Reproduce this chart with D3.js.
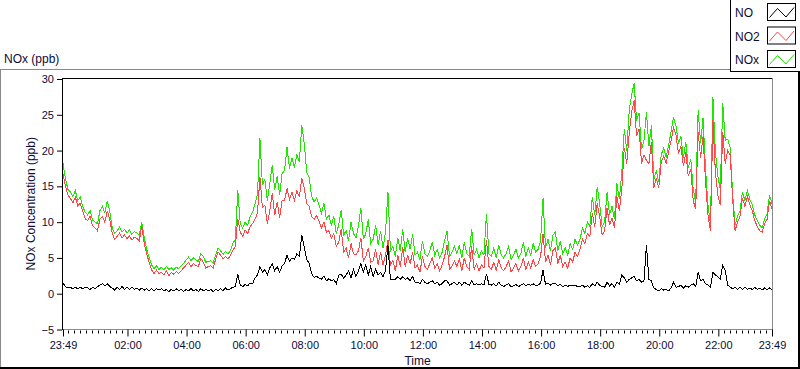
<!DOCTYPE html>
<html><head><meta charset="utf-8">
<script src="https://cdn.jsdelivr.net/npm/d3@7/dist/d3.min.js"></script>
<style>
body{margin:0;background:#fff;}
svg{display:block;font-family:"Liberation Sans",Arial,sans-serif;}
</style></head><body>
<svg id="chart" width="800" height="369"></svg>
<script>
// ---- data ----
const startTime = [2000, 0, 1, 23, 49];   // 23:49, start of the 24 h record
const sampleMinutes = 5;
const NOx = [
18.2,16.0,14.6,14.2,13.6,14.4,13.0,13.5,12.2,11.4,
11.0,11.6,10.3,10.0,9.8,11.6,12.2,11.3,13.0,11.5,
9.2,8.4,8.8,9.3,8.6,9.0,8.5,8.9,8.3,8.7,
8.5,8.2,10.0,7.8,6.2,5.0,4.0,3.5,3.9,3.4,
3.7,3.3,3.8,3.4,3.6,3.3,3.7,3.5,3.9,4.2,
4.7,5.1,4.6,5.0,4.7,4.5,5.6,5.2,4.4,4.5,
4.6,4.3,5.4,6.4,6.0,5.5,5.9,5.6,6.0,7.0,
7.6,14.5,9.8,9.2,10.0,9.5,10.8,11.4,12.6,13.9,
21.7,15.2,16.0,13.0,15.4,18.0,14.5,16.4,13.8,16.8,
17.2,20.5,17.5,19.0,17.6,19.5,18.4,23.5,21.0,17.0,
16.2,13.6,12.8,13.4,12.4,11.2,12.6,10.4,11.0,9.6,
10.8,8.4,9.6,11.7,8.2,8.8,7.4,10.0,8.4,7.8,
9.4,12.0,7.6,8.4,10.4,7.0,7.6,9.6,6.8,8.8,
6.4,8.6,14.2,6.0,6.6,5.2,7.8,6.0,9.0,5.8,
7.8,6.2,8.3,5.4,5.8,4.8,7.4,5.6,5.2,6.0,
7.2,5.4,6.2,5.0,5.8,7.4,8.8,5.2,5.8,6.6,
5.6,6.8,5.0,7.2,5.6,5.2,9.1,5.4,6.2,5.0,
6.0,5.4,11.2,5.6,5.2,6.4,5.0,6.8,5.4,5.0,
5.6,6.6,4.8,5.4,6.2,5.0,5.6,7.2,5.2,6.4,
5.4,7.0,5.8,6.2,7.4,13.3,6.4,7.6,6.0,8.2,
8.6,6.0,7.4,5.6,6.4,5.4,7.0,6.2,7.6,6.8,
7.6,9.2,8.4,10.0,9.4,13.5,11.0,14.9,12.6,9.4,
10.0,14.2,11.0,12.2,10.4,15.4,13.2,17.0,23.0,20.0,
25.6,27.8,29.4,24.2,25.2,20.2,21.4,25.4,20.6,23.5,
16.0,17.2,15.6,19.4,20.4,19.0,20.8,22.6,24.7,23.4,
21.0,22.0,19.0,21.2,17.6,18.8,14.6,12.8,25.6,21.0,
24.6,17.4,12.4,9.6,27.5,19.8,16.4,14.6,26.6,21.4,
21.6,20.4,14.0,9.6,10.8,11.6,14.2,13.0,14.4,13.2,
12.4,11.0,10.2,9.6,9.2,10.4,11.2,13.8,12.6];
const NO2 = [
16.7,15.0,13.8,13.3,12.7,13.5,12.3,12.6,11.5,10.5,
10.2,10.8,9.5,9.2,8.8,10.4,10.8,10.0,11.6,10.4,
8.4,7.6,8.0,8.5,7.8,8.2,7.7,8.1,7.5,7.9,
7.7,7.4,9.5,7.0,5.5,4.4,3.3,2.8,3.3,2.8,
3.0,2.6,3.2,2.5,3.0,2.7,3.1,2.8,3.2,3.6,
4.0,4.4,3.8,4.2,3.9,3.8,4.9,4.4,3.6,3.8,
3.9,3.6,4.8,5.8,5.4,4.9,5.2,4.9,5.3,6.1,
6.6,10.5,8.6,8.0,8.9,8.4,9.4,9.8,10.4,11.3,
16.3,12.0,12.4,9.8,11.6,14.0,11.0,12.8,10.6,13.0,
13.0,14.7,13.2,14.2,13.0,14.4,13.5,16.1,14.8,12.6,
12.2,10.8,10.4,10.9,10.2,9.2,10.0,8.6,8.8,7.8,
8.4,6.6,7.2,9.0,5.8,6.4,5.0,7.0,5.6,5.4,
6.0,7.8,4.6,5.2,6.4,4.4,4.6,6.2,4.0,5.8,
4.0,5.4,7.5,4.0,4.6,3.2,5.4,3.8,6.5,3.8,
5.4,4.2,5.8,3.6,4.0,3.0,5.2,3.8,3.4,4.2,
5.0,3.6,4.2,3.2,4.0,5.2,6.8,3.4,3.8,4.6,
3.8,4.8,3.2,5.0,3.8,3.4,6.6,3.4,4.2,3.2,
4.0,3.6,7.5,3.8,3.4,4.4,3.2,4.8,3.6,3.2,
3.8,4.6,3.0,3.6,4.2,3.2,3.8,5.0,3.4,4.4,
3.6,4.8,3.8,4.2,5.2,8.4,4.4,5.4,4.0,6.0,
6.4,4.2,5.4,3.8,4.4,3.6,5.0,4.4,5.8,5.2,
6.2,7.6,7.0,8.4,8.0,11.2,9.4,12.6,10.8,8.2,
8.8,12.0,9.6,10.6,9.2,13.6,11.6,14.6,20.4,18.2,
22.4,25.4,27.0,22.0,23.0,18.2,19.4,18.6,18.2,21.2,
14.8,16.2,14.8,18.4,19.2,18.2,19.8,21.4,23.2,22.2,
19.6,20.6,17.8,19.8,16.4,17.4,13.0,11.8,22.6,19.0,
22.0,15.6,11.0,8.8,24.2,17.0,13.8,12.4,22.6,18.2,
20.0,19.4,13.2,8.8,10.0,10.8,13.4,12.2,13.6,12.4,
11.6,10.2,9.4,8.8,8.6,9.8,10.4,13.0,11.8];
const NO = [
1.5,1.0,0.8,0.9,0.7,0.9,0.7,0.9,0.7,0.9,
0.8,0.6,0.9,0.7,1.0,1.2,1.4,1.1,1.4,1.0,
0.8,0.5,0.9,0.6,1.0,0.6,0.9,0.6,0.9,0.6,
0.8,0.5,0.8,0.5,0.7,0.4,0.7,0.4,0.7,0.5,
0.7,0.4,0.6,0.3,0.6,0.4,0.7,0.4,0.6,0.3,
0.6,0.4,0.7,0.4,0.6,0.3,0.7,0.4,0.6,0.4,
0.6,0.3,0.6,0.4,0.7,0.4,0.8,0.5,0.7,0.9,
1.0,2.7,1.2,1.0,1.3,1.1,1.5,1.4,2.2,2.6,
3.8,3.0,3.4,2.6,3.6,4.2,3.2,3.8,3.0,3.9,
4.2,5.4,4.5,5.0,4.8,5.6,5.2,8.2,6.5,4.8,
4.2,2.8,2.3,2.4,2.2,2.0,2.5,1.8,2.1,1.8,
2.0,1.4,2.6,2.7,2.2,2.6,3.2,2.2,3.4,2.4,
3.2,4.2,3.0,4.0,2.6,3.8,2.4,3.4,2.6,3.0,
2.4,3.2,6.8,2.0,2.0,2.0,2.4,2.0,2.4,2.0,
2.2,1.8,2.4,1.6,1.6,1.4,2.0,1.6,1.4,1.6,
1.8,1.4,1.6,1.2,1.4,1.8,1.8,1.2,1.4,1.6,
1.2,1.6,1.2,1.6,1.4,1.2,1.8,1.2,1.4,1.2,
1.4,1.2,2.8,1.3,1.2,1.4,1.1,1.6,1.2,1.0,
1.2,1.4,1.0,1.1,1.3,1.0,1.2,1.4,1.1,1.3,
1.2,1.4,1.1,1.2,1.5,3.3,1.3,1.5,1.2,1.5,
1.4,1.1,1.3,1.0,1.2,1.0,1.2,1.1,1.2,1.0,
1.0,1.2,0.9,1.1,0.9,1.4,1.1,1.6,1.2,1.0,
0.9,1.6,1.1,1.4,0.9,1.6,1.3,2.6,2.2,1.6,
2.0,2.2,2.4,1.8,2.0,1.6,1.8,6.8,2.0,1.8,
0.8,0.6,0.4,0.7,0.5,0.6,0.4,0.8,1.6,0.9,
1.0,1.2,0.8,1.1,0.9,1.2,1.4,1.0,3.0,1.8,
2.0,1.4,1.2,0.9,3.0,2.6,2.4,2.0,4.0,3.2,
1.2,0.9,0.7,0.9,0.6,0.9,0.6,0.9,0.6,0.8,
0.6,0.9,0.6,0.8,0.5,0.8,0.6,0.8,0.6];
const yTicks = [-5, 0, 5, 10, 15, 20, 25, 30];
const xTickLabels = ["23:49","02:00","04:00","06:00","08:00","10:00","12:00","14:00","16:00","18:00","20:00","22:00","23:49"];
const seriesNames = ["NO", "NO2", "NOx"];
const seriesColors = ["#000000", "#ff4545", "#1ee600"];
const chartTitle = "NOx (ppb)";
const yTitle = "NOx Concentration (ppb)";
const xTitle = "Time";

// ---- layout ----
const svg = d3.select("#chart");
const L = 63, R = 772, T = 78, B = 329.5;
const textCol = "#0c0c38";

const t0 = new Date(startTime[0], startTime[1], startTime[2], startTime[3], startTime[4]);
const t1 = d3.timeDay.offset(t0, 1);
const times = NOx.map((_, i) => d3.timeMinute.offset(t0, i * sampleMinutes));

const x = d3.scaleTime().domain([t0, t1]).range([L, R]);
const y = d3.scaleLinear().domain([-5, 30]).range([B, 79]);

// outer panel frame
svg.append("rect").attr("x", 0).attr("y", 0).attr("width", 800).attr("height", 369).attr("fill", "#fff");
svg.append("line").attr("x1", 0).attr("x2", 730).attr("y1", 69.5).attr("y2", 69.5).attr("stroke", "#8a8a8a");
svg.append("line").attr("x1", 0.5).attr("x2", 0.5).attr("y1", 69).attr("y2", 369).attr("stroke", "#8a8a8a");
svg.append("rect").attr("x", 0).attr("y", 367).attr("width", 800).attr("height", 2).attr("fill", "#000");
svg.append("rect").attr("x", 798).attr("y", 0).attr("width", 2).attr("height", 369).attr("fill", "#000");

// title
svg.append("text").attr("x", 4).attr("y", 63).attr("font-size", 12).attr("fill", textCol).text(chartTitle);

// clip
svg.append("clipPath").attr("id", "plotclip").append("rect")
  .attr("x", L).attr("y", T).attr("width", R - L).attr("height", B - T);

// series
const seriesData = [NO, NO2, NOx];
const g = svg.append("g").attr("clip-path", "url(#plotclip)");
[2, 1, 0].forEach(k => {
  const line = d3.line().x((d, i) => x(times[i])).y(d => y(d));
  g.append("path").datum(seriesData[k]).attr("d", line)
    .attr("fill", "none").attr("stroke", seriesColors[k]).attr("stroke-width", 1)
    .attr("shape-rendering", "crispEdges");
});

// plot frame: top/left dark, right/bottom grey
svg.append("line").attr("x1", L).attr("x2", R).attr("y1", T + 0.5).attr("y2", T + 0.5).attr("stroke", "#000");
svg.append("line").attr("x1", L - 0.5).attr("x2", L - 0.5).attr("y1", T).attr("y2", B + 0.5).attr("stroke", "#000");
svg.append("line").attr("x1", R + 0.5).attr("x2", R + 0.5).attr("y1", T).attr("y2", B + 0.5).attr("stroke", "#8a8a8a");
svg.append("line").attr("x1", L).attr("x2", R + 1).attr("y1", B).attr("y2", B).attr("stroke", "#8a8a8a");

// y axis
const yAxis = d3.axisLeft(y).tickValues(yTicks).tickSize(5).tickPadding(3).tickFormat(d3.format("d"));
const yg = svg.append("g").attr("transform", `translate(${L - 1},0)`).call(yAxis);
yg.select(".domain").remove();
yg.selectAll(".tick line").attr("stroke", "#000");
yg.selectAll(".tick text").attr("fill", textCol).attr("font-size", 11).attr("font-family", "Liberation Sans, Arial, sans-serif");

// x axis
const majorTimes = xTickLabels.map((lab, i) => {
  if (i === 0) return t0;
  if (i === xTickLabels.length - 1) return t1;
  const [hh, mm] = lab.split(":").map(Number);
  return new Date(startTime[0], startTime[1], startTime[2] + 1, hh, mm);
});
const minorTimes = d3.timeMinute.every(12).range(t0, t1).filter(t => !majorTimes.some(m => +m === +t));
const xg = svg.append("g").attr("transform", `translate(0,${B})`);
xg.selectAll("line.minor").data(minorTimes).enter().append("line")
  .attr("x1", d => Math.round(x(d)) + 0.5).attr("x2", d => Math.round(x(d)) + 0.5)
  .attr("y1", 1).attr("y2", 4).attr("stroke", "#000");
const xAxis = d3.axisBottom(x).tickValues(majorTimes).tickSize(7).tickPadding(5)
  .tickFormat((d, i) => xTickLabels[i]);
xg.call(xAxis);
xg.select(".domain").remove();
xg.selectAll(".tick line").attr("stroke", "#000");
xg.selectAll(".tick text").attr("fill", textCol).attr("font-size", 11).attr("font-family", "Liberation Sans, Arial, sans-serif");

// axis titles
svg.append("text").attr("x", (L + R) / 2).attr("y", 365).attr("text-anchor", "middle")
  .attr("font-size", 12).attr("fill", textCol).text(xTitle);
svg.append("text").attr("transform", `translate(35,${(T + B) / 2}) rotate(-90)`).attr("text-anchor", "middle")
  .attr("font-size", 12).attr("fill", textCol).text(yTitle);

// legend
const lg = svg.append("g");
lg.append("rect").attr("x", 730.5).attr("y", -1).attr("width", 70).attr("height", 72.5).attr("fill", "#fff").attr("stroke", "#000");
seriesNames.forEach((name, i) => {
  const yy = 3.5 + i * 23.5;
  lg.append("text").attr("x", 735).attr("y", yy + 13.5).attr("font-size", 12).attr("fill", textCol).text(name);
  lg.append("rect").attr("x", 767.5).attr("y", yy).attr("width", 28).attr("height", 17)
    .attr("fill", "#fff").attr("stroke", "#000");
  const pts = [[769.5, yy + 14], [777.5, yy + 5], [786, yy + 13.5], [794, yy + 4]];
  lg.append("path").attr("d", d3.line()(pts)).attr("fill", "none").attr("stroke", seriesColors[i]).attr("stroke-width", 1);
});
</script>
</body></html>
